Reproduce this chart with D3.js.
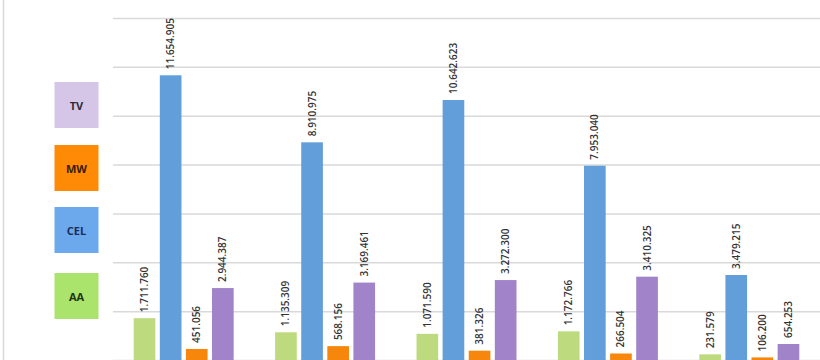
<!DOCTYPE html>
<html>
<head>
<meta charset="utf-8">
<script src="https://cdn.jsdelivr.net/npm/d3@7"></script>
<style>
  html, body { margin: 0; padding: 0; background: #fff; }
  svg { display: block; }
</style>
</head>
<body>
<svg id="chart" width="820" height="360"></svg>
<script>
// ---- data ----
const categories = ["Grupo 1", "Grupo 2", "Grupo 3", "Grupo 4", "Grupo 5"];
const seriesNames = ["AA", "CEL", "MW", "TV"];
const valuesAA  = [1711760, 1135309, 1071590, 1172766, 231579];
const valuesCEL = [11654905, 8910975, 10642623, 7953040, 3479215];
const valuesMW  = [451056, 568156, 381326, 266504, 106200];
const valuesTV  = [2944387, 3169461, 3272300, 3410325, 654253];
const yTicks = [0, 2000000, 4000000, 6000000, 8000000, 10000000, 12000000, 14000000];
const legendOrder = ["TV", "MW", "CEL", "AA"];

const seriesValues = { AA: valuesAA, CEL: valuesCEL, MW: valuesMW, TV: valuesTV };
const barColors = { AA: "#bddb7e", CEL: "#629fda", MW: "#f6860c", TV: "#a083c8" };
const legendColors = { TV: "#d5c6e8", MW: "#ff8a05", CEL: "#6ba8ec", AA: "#abe46c" };
const legendText = { TV: "#2b2b35", MW: "#3a1c0c", CEL: "#1b2d5c", AA: "#1f3316" };

const svg = d3.select("#chart");
const W = 820, H = 360;

const locale = d3.formatLocale({ decimal: ",", thousands: ".", grouping: [3], currency: ["", ""] });
const fmt = locale.format(",d");

const x0 = d3.scaleBand().domain(categories).range([113, 820]).paddingInner(0.293).paddingOuter(0.1465);
const x1 = d3.scaleBand().domain(seriesNames).range([0, x0.bandwidth()]).paddingInner(0.17).paddingOuter(0);
const y = d3.scaleLinear().domain([0, 14000000]).range([360, 18]);

// left frame line
svg.append("line").attr("x1", 3.5).attr("x2", 3.5).attr("y1", 0).attr("y2", H)
  .attr("stroke", "#d9d9d9").attr("stroke-width", 1.5);

// gridlines via axis
const yAxis = d3.axisLeft(y).tickValues(yTicks).tickSize(-(820 - 113)).tickFormat("");
const g = svg.append("g").attr("transform", "translate(113,0)").call(yAxis);
g.select(".domain").remove();
g.selectAll(".tick line").attr("stroke", "#d9d9d9").attr("stroke-width", 1.5);

// bars
const groups = svg.append("g").selectAll("g").data(categories).join("g")
  .attr("transform", d => `translate(${x0(d)},0)`);

groups.each(function(cat, i) {
  const gg = d3.select(this);
  const data = seriesNames.map(s => ({ s, v: seriesValues[s][i] }));
  gg.selectAll("rect").data(data).join("rect")
    .attr("x", d => x1(d.s))
    .attr("y", d => y(d.v))
    .attr("width", x1.bandwidth())
    .attr("height", d => y(0) - y(d.v))
    .attr("fill", d => barColors[d.s]);
  gg.selectAll("text").data(data).join("text")
    .attr("transform", d => `translate(${x1(d.s) + x1.bandwidth() / 2 + 3.5},${y(d.v) - 6}) rotate(-90)`)
    .attr("text-anchor", "start")
    .attr("font-family", "'Open Sans', 'Liberation Sans', sans-serif")
    .attr("font-size", 10)
    .attr("font-weight", 600)
    .attr("fill", "#333")
    .text(d => fmt(d.v));
});

// legend boxes
const legendTops = [82, 145, 207, 273];
const lg = svg.append("g").selectAll("g").data(legendOrder).join("g")
  .attr("transform", (d, i) => `translate(54.5,${legendTops[i]})`);
lg.append("rect").attr("width", 44).attr("height", 46).attr("fill", d => legendColors[d]);
lg.append("text").attr("x", 22).attr("y", 27.5).attr("text-anchor", "middle")
  .attr("font-family", "'Open Sans', 'Liberation Sans', sans-serif")
  .attr("font-size", 11).attr("font-weight", 700)
  .attr("fill", d => legendText[d]).text(d => d);
</script>
</body>
</html>
